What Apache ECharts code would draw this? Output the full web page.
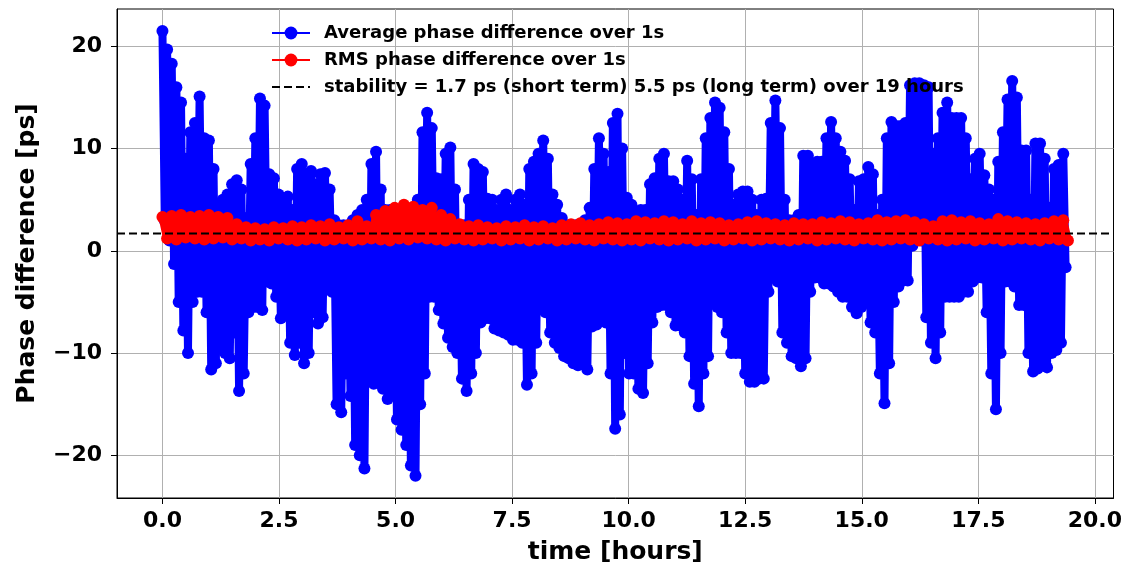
<!DOCTYPE html>
<html>
<head>
<meta charset="utf-8">
<script src="https://cdn.jsdelivr.net/npm/echarts@6/dist/echarts.min.js"></script>
<style>
  html, body { margin: 0; padding: 0; background: #fff; }
  #chart { width: 1125px; height: 570px; }
</style>
</head>
<body>
<div id="chart"></div>
<script>
// upper / lower envelope of the 1s average phase difference, one pair per sample step
const avgHi = [
  21.5, 19.7, 18.3, 16, 14.5, 9, 11.6, 12.5, 15.1, 11,
  10.8, 8, 4.5, 5, 5.5, 6.5, 6.9, 6, 3.2, 8.5,
  11, 14.9, 14.2, 7.5, 7.1, 5.5, 5.1, 5.3, 4, 8,
  8.5, 7.5, 7.8, 6.5, 7.5, 7.6, 6, 3, 2.5, 2.5,
  2.5, 3, 3.5, 4, 5, 8.5, 9.7, 6, 4, 4,
  4, 4, 4, 4, 4, 5, 11.6, 13.5, 12, 7.1,
  7, 9.5, 10.1, 6, 2.5, 2.5, 5, 8.5, 8, 7.7,
  5.1, 5, 4, 5, 5.5, 4, 5, 5.5, 4.5, 8,
  8.7, 9.5, 10.8, 9, 5.5, 4.5, 3.2, 2.5, 2.5, 2.5,
  2.5, 3, 4.2, 8, 11, 9.5, 7.7, 12.5, 13.4, 10,
  5.2, 4.5, 3.5, 4, 4, 6.5, 7.1, 9, 9.5, 6.8,
  6.8, 6, 5, 8.8, 7, 3.5, 7, 11, 13, 14.5,
  14, 11.6, 8, 4.5, 5.5, 5.8, 5.8, 5, 3.5, 5,
  5.1, 12.5, 14.7, 12, 5, 3, 3, 3.5, 9.3, 9.3,
  8.5, 8.7, 8.7, 11, 12.6, 11, 9.7, 8.8, 7, 4,
  6.8, 7, 8.2, 7.5, 3.5, 5, 11, 12.6, 12.2, 12.2,
  12.5, 16.2, 16.4, 16.4, 16.2, 16, 9.5, 11, 13.5, 14.5,
  13, 13, 13, 11, 7, 9, 9.5, 7.4, 6, 5,
  8.7, 11.6, 14.8, 16.6, 15, 9.8, 9.8, 5, 10.5, 10.5,
  9, 4.2, 8, 8.4, 9.5
];
const avgLo = [
  3, 1, -1.3, -5, -7.8, -10, -5, -4, -4, -6,
  -11.6, -11, -9.5, -10, -10.5, -8, -13.7, -12, -6, -5.5,
  -5.5, -5.8, -3, -3.2, -4.5, -6.6, -6, -9, -10.2, -9,
  -11, -10, -6, -7.1, -6.5, -3.5, -4, -15, -15.8, -12,
  -14.2, -19, -20, -21.3, -12.5, -13, -12.9, -13.5, -14.5, -14,
  -16.5, -17.5, -19, -21, -22, -15, -12, -4.5, -4.5, -5.8,
  -7.1, -8.5, -9.4, -10, -12.5, -13.7, -12, -10, -7, -6.6,
  -6.6, -7.6, -7.8, -8, -8.2, -8.7, -8.7, -9, -13.1, -12,
  -9, -5.5, -6, -8, -9, -9.5, -10.3, -10.5, -11, -11.2,
  -11, -11.6, -7.4, -7.2, -6.8, -7, -12, -17.4, -16, -10,
  -12, -12, -13.5, -13.9, -11, -7, -5.5, -5.3, -5.3, -6,
  -7.3, -7.3, -8, -10.3, -13, -15.2, -12, -10.3, -5, -5.5,
  -6, -8, -10, -10, -10, -12, -12.8, -12.8, -12.5, -12.5,
  -4, -2.6, -3, -8, -9, -10.3, -10.5, -11.3, -10.5, -4,
  -2.6, -2.6, -3.2, -3.2, -3.5, -4, -4.5, -4.5, -5.5, -6.1,
  -5.5, -5, -7, -8, -12, -14.9, -11, -5, -3.5, -2.9,
  -2.9, 0.5, 1.3, 1, -6.5, -9, -10.5, -8, -4.5, -4.5,
  -4.5, -4.5, -4, -4, -3, -2.6, -2.6, -6, -12, -15.5,
  -10, -3, -3, -3.5, -5.3, -5.3, -10, -11.8, -11.5, -11,
  -11.4, -10, -9.7, -9, -1.6
];
// RMS over 1s, high / low pair every two sample steps
const rmsHi = [
  3.3, 3.4, 3.5, 3.3, 3.4, 3.5, 3.3, 3.2, 2.6, 2.3,
  2.2, 2.1, 2.3, 2.2, 2.4, 2.3, 2.5, 2.4, 2.6, 2.3,
  2.5, 2.9, 2.4, 3.5, 3.9, 4.2, 4.5, 4.3, 4.0, 4.2,
  3.5, 3.1, 2.6, 2.4, 2.5, 2.3, 2.2, 2.4, 2.3, 2.5,
  2.3, 2.4, 2.2, 2.5, 2.6, 2.7, 2.5, 2.6, 2.8, 2.7,
  2.6, 2.9, 2.8, 2.7, 2.9, 2.8, 2.6, 2.9, 2.7, 2.8,
  2.7, 2.5, 2.6, 2.8, 2.9, 2.7, 2.6, 2.5, 2.7, 2.6,
  2.6, 2.8, 2.7, 2.9, 2.8, 2.6, 2.7, 3.0, 2.8, 2.9,
  3.0, 2.8, 2.6, 2.4, 2.9, 3.0, 2.8, 2.9, 2.7, 2.6,
  3.1, 2.9, 2.8, 2.7, 2.6, 2.7, 2.9, 3.0
];
const rmsLo = [
  1.2, 1.1, 1.3, 1.2, 1.1, 1.2, 1.3, 1.1, 1.2, 1.0,
  1.1, 1.0, 1.2, 1.1, 1.0, 1.1, 1.2, 1.0, 1.1, 1.2,
  1.0, 1.1, 1.2, 1.1, 1.0, 1.2, 1.1, 1.3, 1.2, 1.1,
  1.0, 1.2, 1.1, 1.0, 1.1, 1.2, 1.0, 1.1, 1.2, 1.0,
  1.1, 1.2, 1.0, 1.1, 1.2, 1.1, 1.0, 1.2, 1.1, 1.0,
  1.1, 1.0, 1.2, 1.1, 1.0, 1.1, 1.2, 1.0, 1.1, 1.2,
  1.0, 1.1, 1.2, 1.0, 1.1, 1.2, 1.1, 1.0, 1.1, 1.2,
  1.0, 1.1, 1.2, 1.1, 1.0, 1.2, 1.1, 1.0, 1.1, 1.2,
  1.1, 1.0, 1.2, 1.1, 1.0, 1.1, 1.2, 1.0, 1.1, 1.2,
  1.0, 1.1, 1.2, 1.1, 1.0, 1.2, 1.1, 1.0
];
const stability = 1.7;
const xTicks = [0, 2.5, 5, 7.5, 10, 12.5, 15, 17.5, 20];
const yTicks = [-20, -10, 0, 10, 20];
const dt = 0.0996; // hours per sample step

const names = [
  "Average phase difference over 1s",
  "RMS phase difference over 1s",
  "stability = 1.7 ps (short term) 5.5 ps (long term) over 19 hours",
];

let avgData = [];
for (let i = 0; i < avgHi.length; i++) {
  avgData.push([i * dt, avgHi[i]]);
  avgData.push([i * dt + dt / 2, avgLo[i]]);
}
let rmsData = [];
for (let i = 0; i < rmsHi.length; i++) {
  rmsData.push([2 * i * dt, rmsHi[i]]);
  rmsData.push([(2 * i + 1) * dt, rmsLo[i]]);
}

const xMin = -0.975, xMax = 20.4;
const font = "DejaVu Sans";
const minus = (v) => (v < 0 ? "\u2212" + Math.abs(v) : String(v));

const option = {
  animation: false,
  textStyle: { fontFamily: font },
  grid: {
    left: 117,
    right: 10,
    top: 9,
    bottom: 67,
    show: true,
    borderColor: "#000",
    borderWidth: 1,
  },
  legend: {
    data: names,
    orient: "vertical",
    left: 271,
    top: 24,
    padding: 0,
    itemGap: 9,
    itemWidth: 38,
    itemHeight: 16,
    lineStyle: { width: 2 },
    textStyle: {
      fontFamily: font,
      fontSize: 18,
      fontWeight: "bold",
      color: "#000",
      padding: [0, 0, 0, 9],
    },
  },
  xAxis: {
    type: "value",
    min: xMin,
    max: xMax,
    name: "time [hours]",
    nameLocation: "middle",
    nameGap: 42,
    nameTextStyle: { fontFamily: font, fontSize: 25, fontWeight: "bold", color: "#000" },
    axisLine: { show: true, onZero: false, lineStyle: { color: "#000", width: 1 } },
    axisTick: { show: true, customValues: xTicks, length: 6, lineStyle: { color: "#000" } },
    axisLabel: {
      customValues: xTicks,
      formatter: (v) => v.toFixed(1),
      fontFamily: font,
      fontSize: 22,
      fontWeight: "bold",
      color: "#000",
      margin: 12,
    },
    splitLine: { show: true, lineStyle: { color: "#b0b0b0", width: 1 } },
  },
  yAxis: {
    type: "value",
    min: -24.175,
    max: 23.65,
    name: "Phase difference [ps]",
    nameLocation: "middle",
    nameGap: 77,
    nameTextStyle: { fontFamily: font, fontSize: 25, fontWeight: "bold", color: "#000" },
    axisLine: { show: true, onZero: false, lineStyle: { color: "#000", width: 1 } },
    axisTick: { show: true, customValues: yTicks, length: 6, lineStyle: { color: "#000" } },
    axisLabel: {
      customValues: yTicks,
      formatter: minus,
      fontFamily: font,
      fontSize: 22,
      fontWeight: "bold",
      color: "#000",
      margin: 15,
    },
    splitLine: { show: true, lineStyle: { color: "#b0b0b0", width: 1 } },
  },
  series: [
    {
      name: names[0],
      type: "line",
      data: avgData,
      symbol: "circle",
      symbolSize: 12,
      showAllSymbol: true,
      itemStyle: { color: "#0000ff" },
      lineStyle: { color: "#0000ff", width: 8, join: "round" },
      emphasis: { disabled: true },
      z: 2,
    },
    {
      name: names[1],
      type: "line",
      data: rmsData,
      symbol: "circle",
      symbolSize: 12,
      showAllSymbol: true,
      itemStyle: { color: "#ff0000" },
      lineStyle: { color: "#ff0000", width: 8, join: "round" },
      emphasis: { disabled: true },
      z: 3,
    },
    {
      name: names[2],
      type: "line",
      data: [[xMin, stability], [xMax, stability]],
      symbol: "none",
      itemStyle: { color: "rgba(0,0,0,0)" },
      lineStyle: { color: "#000", width: 2, type: [8, 4] },
      emphasis: { disabled: true },
      z: 4,
    },
  ],
};

const chart = echarts.init(document.getElementById("chart"));
chart.setOption(option);
</script>
</body>
</html>
